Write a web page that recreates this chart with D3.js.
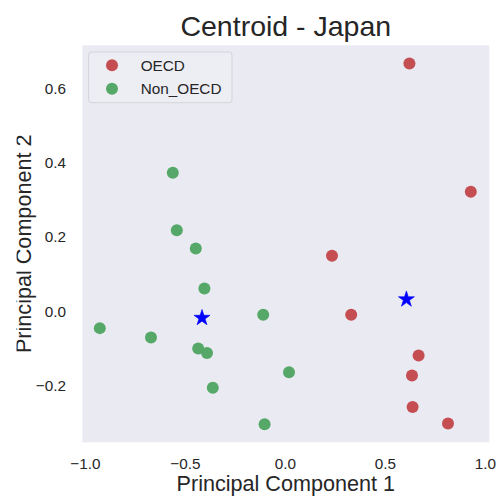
<!DOCTYPE html>
<html>
<head>
<meta charset="utf-8">
<script src="https://cdn.jsdelivr.net/npm/d3@7"></script>
<style>
  html, body { margin: 0; padding: 0; background: #ffffff; }
  svg { display: block; font-family: "Liberation Sans", Arial, "DejaVu Sans", sans-serif; }
</style>
</head>
<body>
<svg id="chart" width="496" height="498"></svg>
<script>
// ---- data ----
const oecdX    = [0.623, 0.930, 0.236, 0.332, 0.669, 0.636, 0.639, 0.816];
const oecdY    = [0.667, 0.321, 0.148, -0.011, -0.121, -0.175, -0.260, -0.304];
const nonOecdX = [-0.560, -0.540, -0.445, -0.402, -0.925, -0.669, -0.433, -0.389, -0.360, -0.108, 0.021, -0.101];
const nonOecdY = [0.372, 0.217, 0.168, 0.060, -0.047, -0.072, -0.102, -0.114, -0.208, -0.011, -0.166, -0.306];
const centroidX = [0.608, -0.414];
const centroidY = [0.033, -0.017];
const seriesNames = ["OECD", "Non_OECD"];
const xTicks = [-1.0, -0.5, 0.0, 0.5, 1.0];
const yTicks = [-0.2, 0.0, 0.2, 0.4, 0.6];
const xDomain = [-1.0125, 1.0225];
const yDomain = [-0.355, 0.716];
const titleText = "Centroid - Japan";
const xLabel = "Principal Component 1";
const yLabel = "Principal Component 2";

// ---- layout ----
const W = 496, H = 498;
const m = { left: 82.3, right: 6.7, top: 45.3, bottom: 55.7 };
const colors = { OECD: "#C44E52", Non_OECD: "#55A868", centroid: "#0000FF" };
const textColor = "#262626";

const svg = d3.select("#chart");
const x = d3.scaleLinear().domain(xDomain).range([m.left, W - m.right]);
const y = d3.scaleLinear().domain(yDomain).range([H - m.bottom, m.top]);

// plot background
svg.append("rect")
  .attr("x", m.left).attr("y", m.top)
  .attr("width", W - m.left - m.right).attr("height", H - m.top - m.bottom)
  .attr("fill", "#EAEAF2");

// axes (ticks without lines)
const xAxis = svg.append("g")
  .attr("transform", `translate(0,${H - m.bottom})`)
  .call(d3.axisBottom(x).tickValues(xTicks).tickSize(0).tickPadding(0).tickFormat(d3.format(".1f")));
xAxis.select(".domain").remove();
xAxis.selectAll("text")
  .attr("y", 26.7).attr("dy", null)
  .attr("font-size", 15.3).attr("fill", textColor)
  .attr("font-family", "'Liberation Sans', Arial, sans-serif");

const yAxis = svg.append("g")
  .attr("transform", `translate(${m.left},0)`)
  .call(d3.axisLeft(y).tickValues(yTicks).tickSize(0).tickPadding(0).tickFormat(d3.format(".1f")));
yAxis.select(".domain").remove();
yAxis.selectAll("text")
  .attr("x", -16.3).attr("dy", "0.35em")
  .attr("font-size", 15.3).attr("fill", textColor)
  .attr("font-family", "'Liberation Sans', Arial, sans-serif");

// points
const oecd = oecdX.map((v, i) => ({ x: v, y: oecdY[i] }));
const nonOecd = nonOecdX.map((v, i) => ({ x: v, y: nonOecdY[i] }));

svg.append("g").selectAll("circle").data(oecd).join("circle")
  .attr("cx", d => x(d.x)).attr("cy", d => y(d.y)).attr("r", 6)
  .attr("fill", colors.OECD);

svg.append("g").selectAll("circle").data(nonOecd).join("circle")
  .attr("cx", d => x(d.x)).attr("cy", d => y(d.y)).attr("r", 6)
  .attr("fill", colors.Non_OECD);

// centroids
const cents = centroidX.map((v, i) => ({ x: v, y: centroidY[i] }));
const star = d3.symbol().type(d3.symbolStar).size(80);
svg.append("g").selectAll("path").data(cents).join("path")
  .attr("transform", d => `translate(${x(d.x)},${y(d.y) + 0.9})`)
  .attr("d", star)
  .attr("fill", colors.centroid)
  .attr("stroke", colors.centroid).attr("stroke-width", 0.6);

// legend
const leg = svg.append("g");
leg.append("rect")
  .attr("x", 88.7).attr("y", 52).attr("width", 143.3).attr("height", 50.7)
  .attr("rx", 3).attr("ry", 3)
  .attr("fill", "#EDEDF4").attr("fill-opacity", 0.9)
  .attr("stroke", "#D3D3DA").attr("stroke-width", 1);
seriesNames.forEach((name, i) => {
  const cy = 65.3 + i * 23.4;
  leg.append("circle").attr("cx", 112).attr("cy", cy).attr("r", 6).attr("fill", colors[name]);
  leg.append("text").attr("x", 140.7).attr("y", cy).attr("dy", "0.35em")
    .attr("font-size", 15.3).attr("fill", textColor).text(name);
});

// title
svg.append("text")
  .attr("x", (m.left + W - m.right) / 2).attr("y", 36)
  .attr("text-anchor", "middle").attr("font-size", 28.5).attr("fill", textColor)
  .text(titleText);

// x label
svg.append("text")
  .attr("x", (m.left + W - m.right) / 2).attr("y", 491)
  .attr("text-anchor", "middle").attr("font-size", 21.6).attr("fill", textColor)
  .text(xLabel);

// y label (clipped at the left, as in the reference)
svg.append("clipPath").attr("id", "ylabClip")
  .append("rect").attr("x", 16.5).attr("y", 0).attr("width", W).attr("height", H);
svg.append("g").attr("clip-path", "url(#ylabClip)")
  .append("text")
  .attr("transform", `translate(30.5,${(m.top + H - m.bottom) / 2}) rotate(-90)`)
  .attr("text-anchor", "middle").attr("font-size", 21.6).attr("fill", textColor)
  .text(yLabel);
</script>
</body>
</html>
